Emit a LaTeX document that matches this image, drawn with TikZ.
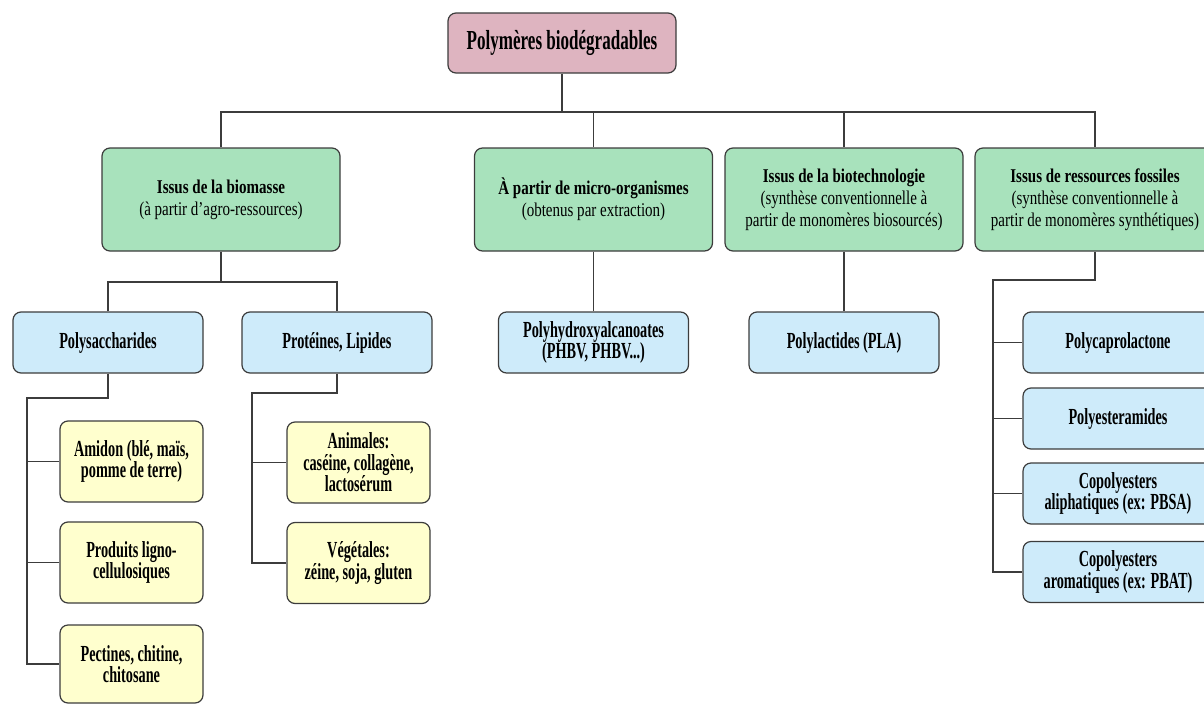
\documentclass[tikz,border=0pt]{standalone}
\usepackage{fontspec}
\setmainfont{Liberation Serif}[FakeStretch=0.62]
\newfontfamily\headfont{Liberation Serif}[FakeStretch=0.77]
\definecolor{pinkbox}{RGB}{222,180,192}
\definecolor{greenbox}{RGB}{168,226,188}
\definecolor{bluebox}{RGB}{206,235,250}
\definecolor{yellowbox}{RGB}{255,255,206}
\definecolor{linegray}{RGB}{60,60,60}

\begin{document}
\begin{tikzpicture}[
        x=1pt, y=-1pt,
        box/.style={draw=linegray, line width=1.2pt, rounded corners=8pt, align=center,
            inner sep=2pt, font=\bfseries\fontsize{23}{21.5}\selectfont},
        rootbox/.style={box, fill=pinkbox, minimum width=228pt, minimum height=60pt,
            font=\bfseries\fontsize{27.5}{28}\selectfont},
        groupbox/.style={box, fill=greenbox, minimum width=238pt, minimum height=103pt,
            font=\headfont\fontsize{19.5}{22}\selectfont},
        familybox/.style={box, fill=bluebox, minimum width=190pt, minimum height=61pt},
        leafbox/.style={box, fill=yellowbox, minimum width=143pt, minimum height=81pt},
        link/.style={draw=linegray, line width=1.2pt},
    ]
    \useasboundingbox (0,0) rectangle (1204,704);

    % root
    \node[rootbox](root) at (562,43){Polymères biodégradables};

    % origins
    \node[groupbox](bio) at (221,199.5){\textbf{Issus de la biomasse}\\
        \mdseries(à partir d’agro-ressources)};
    \node[groupbox](micro) at (593.5,199.5){\textbf{À partir de micro-organismes}\\
        \mdseries(obtenus par extraction)};
    \node[groupbox](tech) at (844,199.5){\textbf{Issus de la biotechnologie}\\
        \mdseries(synthèse conventionnelle à\\ \mdseries partir de monomères biosourcés)};
    \node[groupbox, minimum width=240pt](fos) at (1095,199.5){\textbf{Issus de ressources fossiles}\\
        \mdseries(synthèse conventionnelle à\\ \mdseries partir de monomères synthétiques)};

    % families
    \node[familybox](poly) at (108,342.5){Polysaccharides};
    \node[familybox](prot) at (337,342.5){Protéines, Lipides};
    \node[familybox](pha) at (593.5,342.5){Polyhydroxyalcanoates\\(PHBV, PHBV...)};
    \node[familybox](pla) at (844,342.5){Polylactides (PLA)};
    \node[familybox](pcl) at (1118,342.5){Polycaprolactone};
    \node[familybox](pea) at (1118,418.5){Polyesteramides};
    \node[familybox](cal) at (1118,493.5){Copolyesters\\aliphatiques (ex: PBSA)};
    \node[familybox](car) at (1118,572){Copolyesters\\aromatiques (ex: PBAT)};

    % sources
    \node[leafbox](ami) at (131.5,461.5){Amidon (blé, maïs,\\pomme de terre)};
    \node[leafbox](pro) at (131.5,562.5){Produits ligno-\\cellulosiques};
    \node[leafbox, minimum height=78pt](pec) at (131.5,664){Pectines, chitine,\\chitosane};
    \node[leafbox](ani) at (358.5,462.5){Animales:\\caséine, collagène,\\lactosérum};
    \node[leafbox](veg) at (358.5,563){Végétales:\\zéine, soja, gluten};

    % connectors
    \coordinate (b0) at (562,112);
    \coordinate (b1) at (221,282);
    \coordinate (b3) at (993,280);
    \coordinate (b4) at (27,398);
    \coordinate (b5) at (252,393);

    \draw[link] (root) -- (b0);
    \draw[link] (bio.north) |- (b0) -| (fos.north);
    \draw[link] (micro.north) -- (micro.north |- b0);
    \draw[link] (tech.north) -- (tech.north |- b0);

    \draw[link] (bio.south) -- (b1);
    \draw[link] (poly.north) |- (b1) -| (prot.north);
    \draw[link] (micro) -- (pha);
    \draw[link] (tech) -- (pla);

    \draw[link] (fos.south) |- (b3) |- (car.west);
    \foreach \n in {pcl,pea,cal}
        \draw[link] (\n.west) -- (\n.west -| b3);

    \draw[link] (poly.south) |- (b4) |- (pec.west);
    \foreach \n in {ami,pro}
        \draw[link] (\n.west) -- (\n.west -| b4);

    \draw[link] (prot.south) |- (b5) |- (veg.west);
    \draw[link] (ani.west) -- (ani.west -| b5);

\end{tikzpicture}
\end{document}
